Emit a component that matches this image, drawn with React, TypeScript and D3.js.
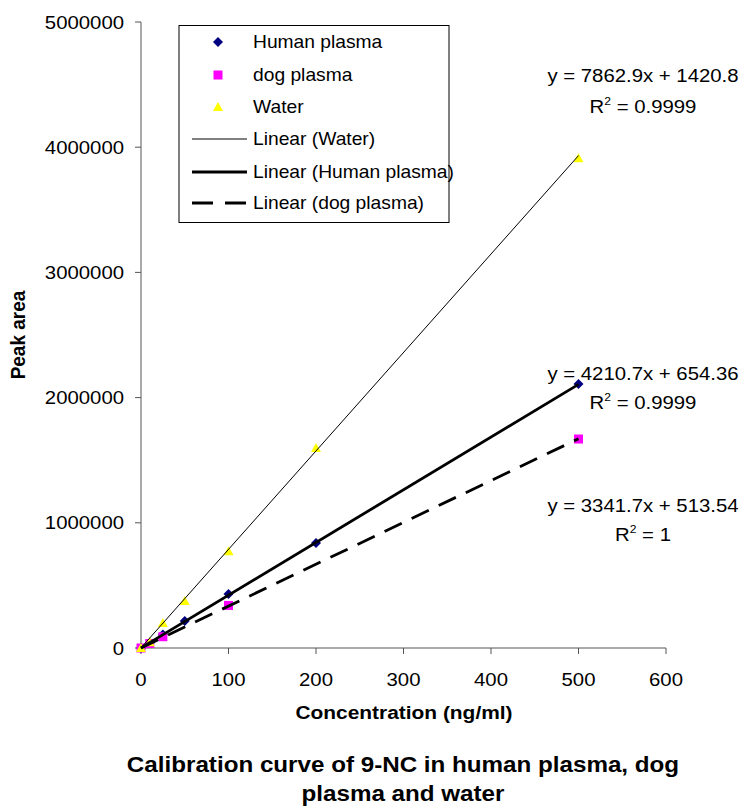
import React from 'react';
import * as d3 from 'd3';

// concentrations (ng/ml) and peak areas
const concHuman = [0, 10, 25, 50, 100, 200, 500];
const areaHuman = [0, 40000, 108000, 215000, 432000, 838000, 2109000];
const concDog = [0, 10, 25, 100, 500];
const areaDog = [0, 36000, 90000, 340000, 1669000];
const concWater = [0, 10, 25, 50, 100, 200, 500];
const areaWater = [0, 45000, 200000, 375000, 772000, 1597000, 3911000];

// trendline fits printed on the chart: [slope, intercept]
const fitWater = [7862.9, 1420.8];
const fitHuman = [4210.7, 654.36];
const fitDog = [3341.7, 513.54];

const xTicks = [0, 100, 200, 300, 400, 500, 600];
const yTicks = [0, 1000000, 2000000, 3000000, 4000000, 5000000];

const legendItems = ['Human plasma', 'dog plasma', 'Water', 'Linear (Water)', 'Linear (Human plasma)', 'Linear (dog plasma)'];

const FONT = '"Liberation Sans", Arial, sans-serif';
const SX = 1.1; // the source picture is a bit stretched sideways

const T = ({ x, y, anchor = 'start', size = 18, bold = false, rot = false, children }: any) => (
  <text
    transform={rot ? `translate(${x},${y}) rotate(-90) scale(1,${SX})` : `translate(${x},${y}) scale(${SX},1)`}
    textAnchor={anchor}
    fontSize={size}
    fontWeight={bold ? 'bold' : 'normal'}
    fontFamily={FONT}
    fill="#000"
  >
    {children}
  </text>
);

const diamond = (cx: number, cy: number, r = 5) => `M${cx},${cy - r}L${cx + r},${cy}L${cx},${cy + r}L${cx - r},${cy}Z`;
const triangle = (cx: number, cy: number, r = 5) => `M${cx},${cy - r}L${cx + r},${cy + r * 0.8}L${cx - r},${cy + r * 0.8}Z`;

const App = () => {
  const width = 747;
  const height = 807;
  const x = d3.scaleLinear().domain([0, 600]).range([141, 666]);
  const y = d3.scaleLinear().domain([0, 5000000]).range([648, 22]);

  const fitLine = (fit: number[]) => {
    const line = d3.line<number>().x(d => x(d)).y(d => y(fit[0] * d + fit[1]));
    return line([0, 500]) || '';
  };

  const legY = [42, 75, 107, 139, 172, 203];

  return (
    <svg width={width} height={height} style={{ position: 'absolute', left: 0, top: 0 }}>
      <rect width={width} height={height} fill="#fff" />

      {/* axes */}
      <line x1={x(0)} x2={x(0)} y1={y(5000000)} y2={y(0)} stroke="#555" />
      <line x1={x(0)} x2={x(600)} y1={y(0)} y2={y(0)} stroke="#555" />
      {yTicks.map(t => (
        <g key={'y' + t}>
          <line x1={x(0) - 6} x2={x(0)} y1={y(t)} y2={y(t)} stroke="#555" />
          <T x={124} y={y(t) + 6.5} anchor="end" size={18.5}>{t}</T>
        </g>
      ))}
      {xTicks.map(t => (
        <g key={'x' + t}>
          <line x1={x(t)} x2={x(t)} y1={y(0)} y2={y(0) + 6} stroke="#555" />
          <T x={x(t)} y={686} anchor="middle" size={18.5}>{t}</T>
        </g>
      ))}

      {/* markers */}
      {concHuman.map((c, i) => (
        <path key={'h' + i} d={diamond(x(c), y(areaHuman[i]))} fill="#000080" />
      ))}
      {concDog.map((c, i) => (
        <rect key={'d' + i} x={x(c) - 4.5} y={y(areaDog[i]) - 4.5} width={9} height={9} fill="#ff00ff" />
      ))}
      {concWater.map((c, i) => (
        <path key={'w' + i} d={triangle(x(c), y(areaWater[i]))} fill="#ffff00" />
      ))}

      {/* trendlines */}
      <path d={fitLine(fitWater)} stroke="#000" strokeWidth={1} fill="none" />
      <path d={fitLine(fitHuman)} stroke="#000" strokeWidth={2.8} fill="none" />
      <path d={fitLine(fitDog)} stroke="#000" strokeWidth={2.8} fill="none" strokeDasharray="19,11" />

      {/* equations */}
      <T x={643} y={82} anchor="middle" size={18.5}>y = 7862.9x + 1420.8</T>
      <T x={643} y={113} anchor="middle" size={18.5}>R<tspan fontSize={11} dy={-8}>2</tspan><tspan dy={8}> = 0.9999</tspan></T>
      <T x={643} y={380} anchor="middle" size={18.5}>y = 4210.7x + 654.36</T>
      <T x={643} y={409} anchor="middle" size={18.5}>R<tspan fontSize={11} dy={-8}>2</tspan><tspan dy={8}> = 0.9999</tspan></T>
      <T x={643} y={512} anchor="middle" size={18.5}>y = 3341.7x + 513.54</T>
      <T x={643} y={541} anchor="middle" size={18.5}>R<tspan fontSize={11} dy={-8}>2</tspan><tspan dy={8}> = 1</tspan></T>

      {/* legend */}
      <rect x={179} y={25.5} width={270} height={197} fill="#fff" stroke="#000" />
      <path d={diamond(218, legY[0])} fill="#000080" />
      <rect x={213.5} y={legY[1] - 4.5} width={9} height={9} fill="#ff00ff" />
      <path d={triangle(218, legY[2])} fill="#ffff00" />
      <line x1={192} x2={247} y1={legY[3]} y2={legY[3]} stroke="#000" strokeWidth={1} />
      <line x1={192} x2={247} y1={legY[4]} y2={legY[4]} stroke="#000" strokeWidth={2.8} />
      <line x1={192} x2={247} y1={legY[5]} y2={legY[5]} stroke="#000" strokeWidth={2.8} strokeDasharray="21,12" />
      {legendItems.map((d, i) => (
        <T key={d} x={253} y={legY[i] + 6} size={17.5}>{d}</T>
      ))}

      {/* axis titles */}
      <T x={404} y={719} anchor="middle" size={19} bold>Concentration (ng/ml)</T>
      <T x={25} y={335} anchor="middle" size={19} bold rot>Peak area</T>

      {/* caption */}
      <T x={403} y={772} anchor="middle" size={22} bold>Calibration curve of 9-NC in human plasma, dog</T>
      <T x={403} y={801} anchor="middle" size={22} bold>plasma and water</T>
    </svg>
  );
};

export default App;
